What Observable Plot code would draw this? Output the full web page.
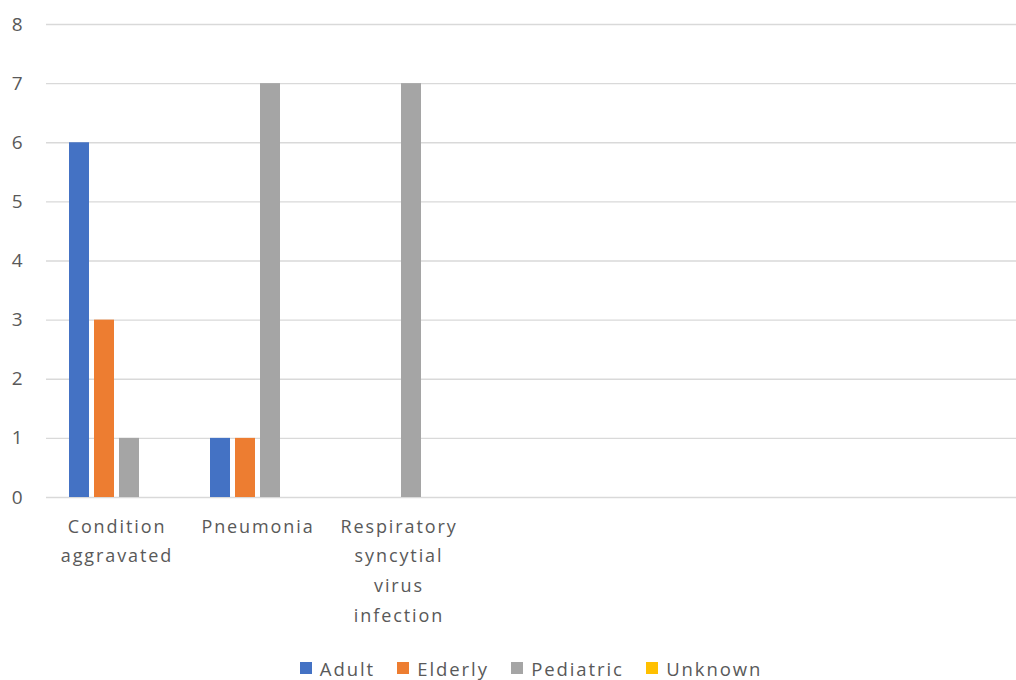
<!DOCTYPE html>
<html>
<head>
<meta charset="utf-8">
<script src="https://cdn.jsdelivr.net/npm/d3@7"></script>
<script src="https://cdn.jsdelivr.net/npm/@observablehq/plot@0.6"></script>
<style>
  html, body { margin: 0; padding: 0; background: #fff; }
  #chart { width: 1016px; }
  #plotArea { position: relative; width: 1016px; height: 650px; }
  #plotArea svg { position: absolute; left: 0; top: 0; }
  .legend {
    display: flex; justify-content: center; align-items: center;
    height: 36px; padding-left: 46px; box-sizing: border-box; width: 1016px;
    font-family: "Open Sans", sans-serif; font-size: 18.5px; letter-spacing: 1.9px; color: #595959;
  }
  .legend .item { display: flex; align-items: center; margin: 0 11.2px; }
  .legend .sw { width: 12px; height: 12px; margin-right: 8px; }
</style>
</head>
<body>
<div id="chart"><div id="plotArea"></div></div>
<script>
// Categories along the horizontal axis and their wrapped tick labels
const categories = ["Condition aggravated", "Pneumonia", "Respiratory syncytial virus infection"];
const categoryLabels = ["Condition\naggravated", "Pneumonia", "Respiratory\nsyncytial\nvirus\ninfection"];

// Age-group series and their colours
const series = ["Adult", "Elderly", "Pediatric", "Unknown"];
const seriesColors = ["#4472C4", "#ED7D31", "#A5A5A5", "#FFC000"];

// Counts per category, one array per series
const adult = [6, 1, 0];
const elderly = [3, 1, 0];
const pediatric = [1, 7, 7];
const unknown = [0, 0, 0];

// Value axis ticks
const yTicks = [0, 1, 2, 3, 4, 5, 6, 7, 8];

const valuesBySeries = [adult, elderly, pediatric, unknown];
const rows = [];
categories.forEach((c, i) => {
  series.forEach((s, j) => rows.push({category: c, series: s, value: valuesBySeries[j][i]}));
});
const labelOf = new Map(categories.map((c, i) => [c, categoryLabels[i]]));

const W = 1016, H = 650, left = 46, band = 141;
const frame = {width: W, height: H, marginLeft: left, marginRight: 0, marginTop: 24, marginBottom: 153};
const textStyle = {fontFamily: "'Open Sans', sans-serif", fontSize: "18px", letterSpacing: "1.9px", color: "#595959"};

// Background layer: horizontal gridlines across the whole plot area and the value axis
const grid = Plot.plot({
  ...frame,
  style: {...textStyle, background: "#fff"},
  x: {domain: [0, 1], axis: null},
  y: {domain: [0, 8], label: null},
  marks: [
    Plot.ruleY(yTicks, {stroke: "#d9d9d9", strokeWidth: 1.3}),
    Plot.axisY({ticks: yTicks, tickSize: 0, tickPadding: 22, label: null, tickFormat: d3.format("d"), fill: "#595959", fontSize: 19})
  ]
});

// Foreground layer: clustered columns, one facet per category
const bars = Plot.plot({
  ...frame,
  style: {...textStyle, background: "transparent"},
  fx: {domain: categories, range: [left, left + band * categories.length], paddingInner: 0, paddingOuter: 0, label: null},
  x: {domain: series, paddingInner: 0.2, paddingOuter: 0.83, axis: null},
  y: {domain: [0, 8], axis: null},
  color: {domain: series, range: seriesColors},
  marks: [
    Plot.barY(rows, {fx: "category", x: "series", y: "value", fill: "series"}),
    Plot.axisFx({anchor: "bottom", tickSize: 0, tickPadding: 14, label: null, lineHeight: 1.65, tickFormat: (d) => labelOf.get(d), fill: "#595959"})
  ]
});

const area = document.getElementById("plotArea");
area.appendChild(grid);
area.appendChild(bars);

// Legend row under the chart
const legend = document.createElement("div");
legend.className = "legend";
series.forEach((s, i) => {
  const item = document.createElement("div");
  item.className = "item";
  const sw = document.createElement("span");
  sw.className = "sw";
  sw.style.background = seriesColors[i];
  const label = document.createElement("span");
  label.textContent = s;
  item.appendChild(sw);
  item.appendChild(label);
  legend.appendChild(item);
});
document.getElementById("chart").appendChild(legend);
</script>
</body>
</html>
